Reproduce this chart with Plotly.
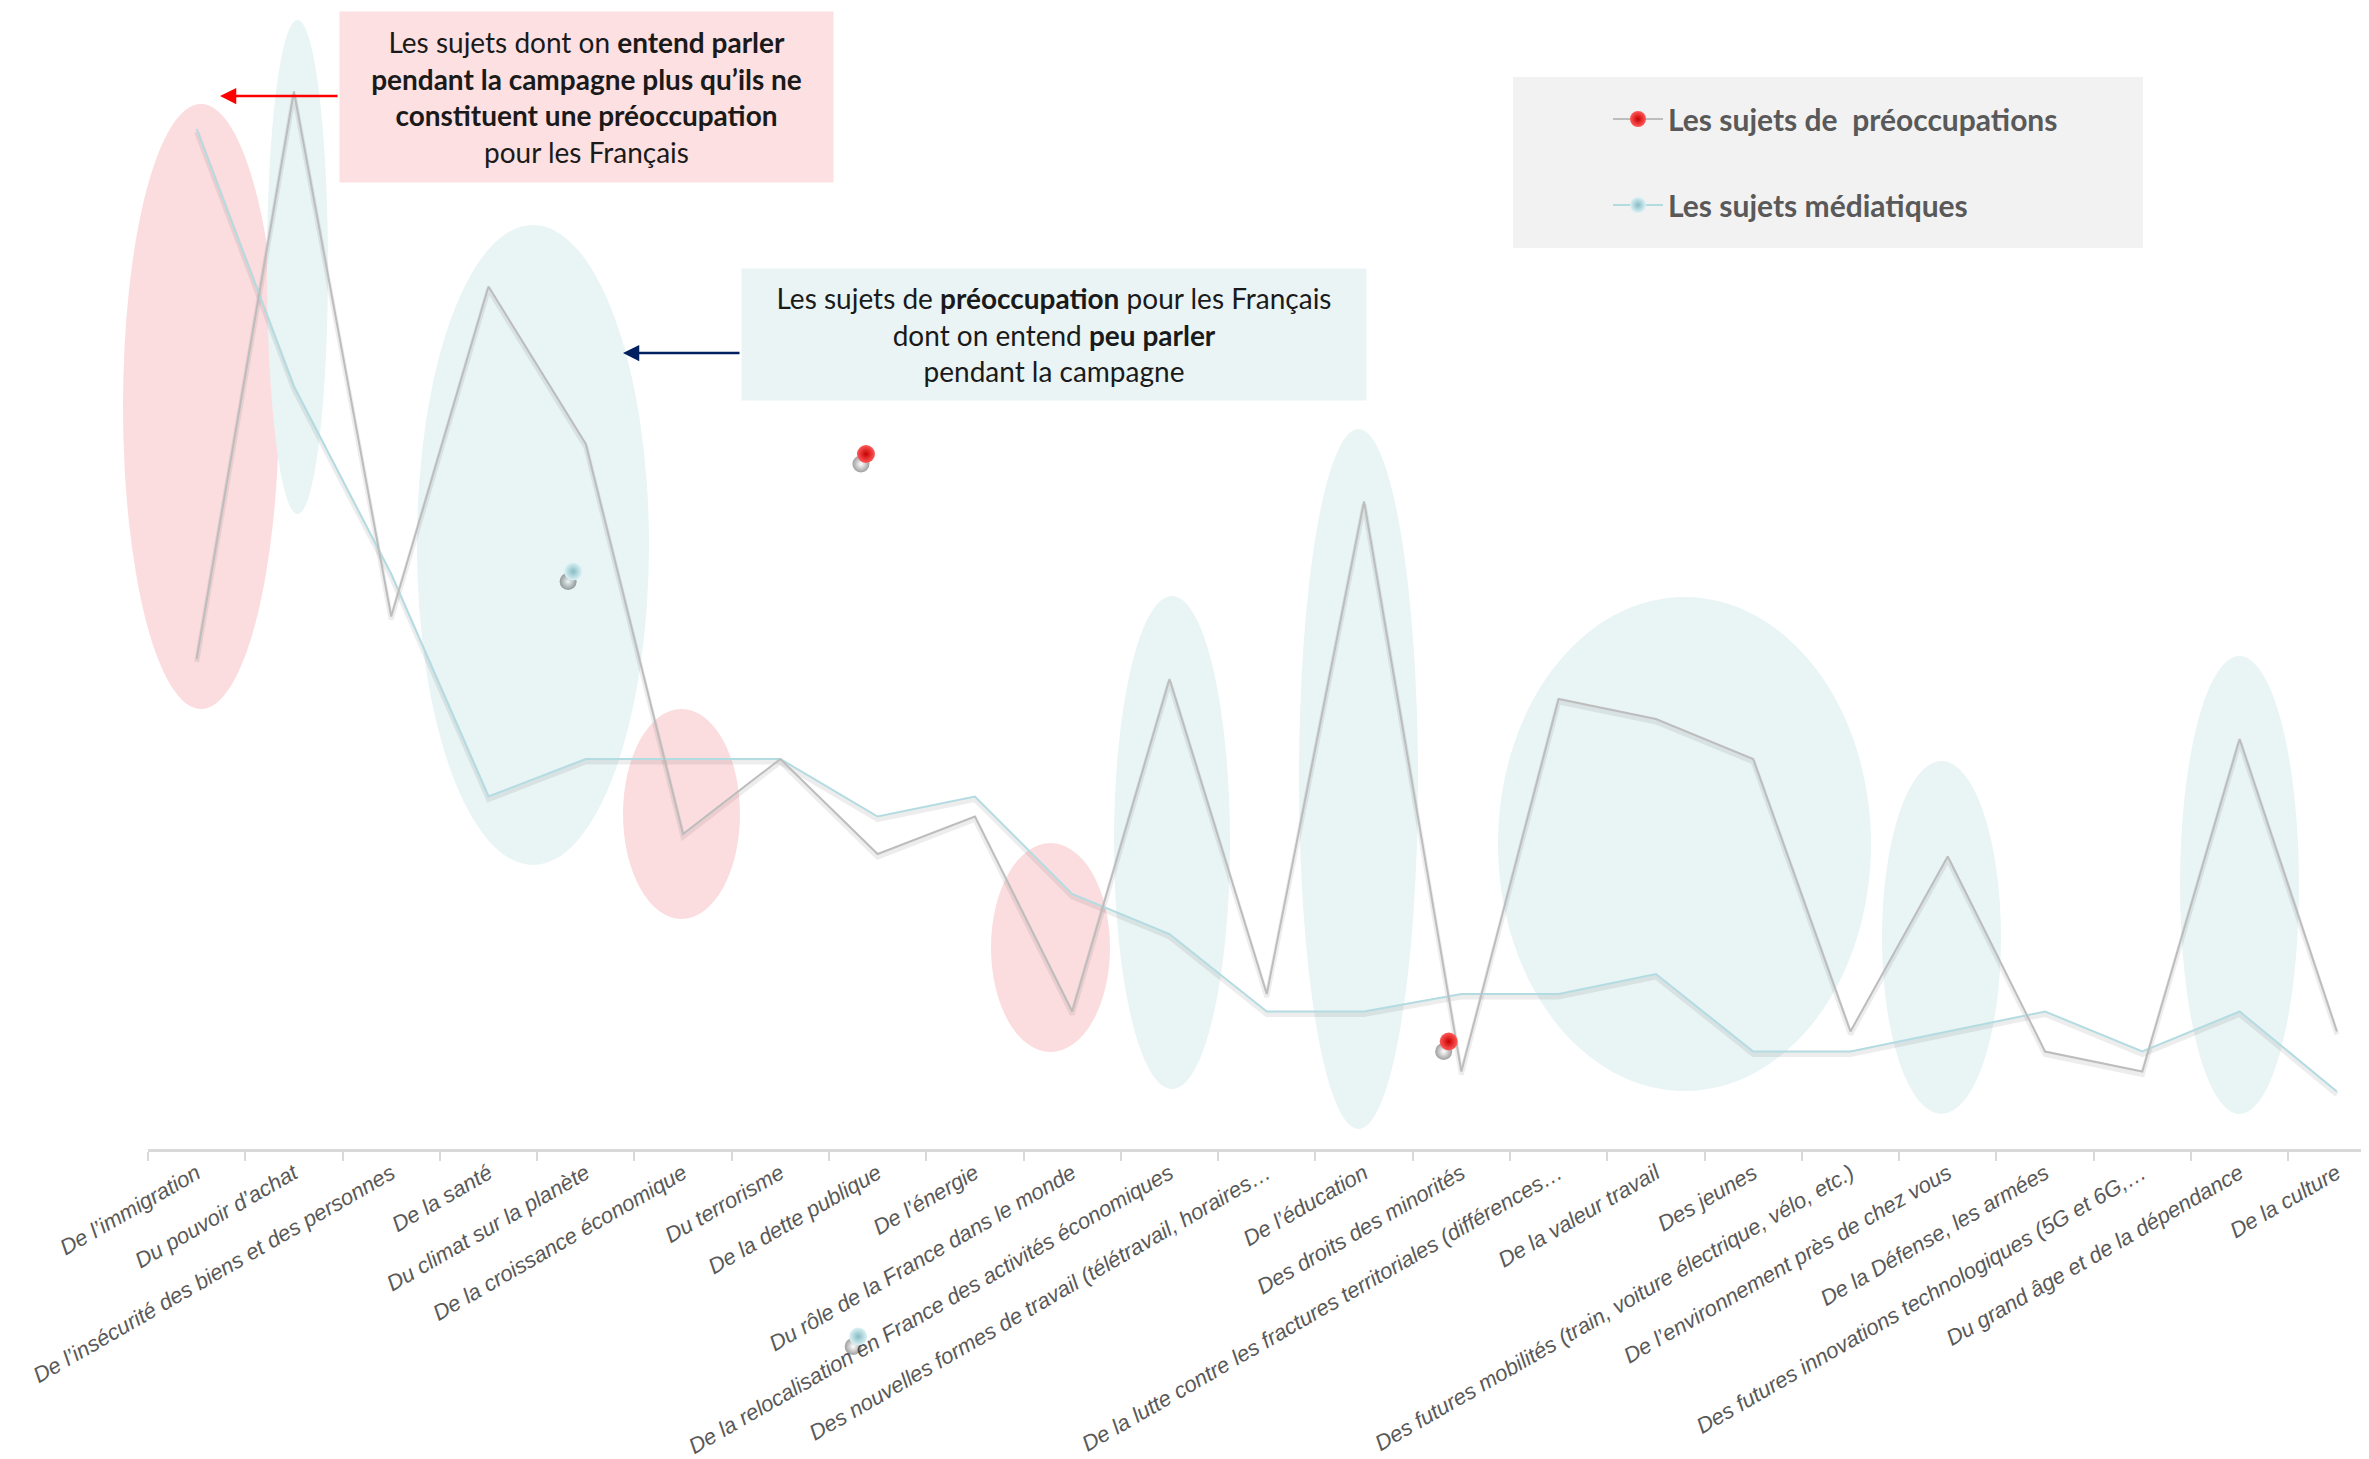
import plotly.graph_objects as go

categories = [
    "De l’immigration", "Du pouvoir d’achat", "De l’insécurité des biens et des personnes",
    "De la santé", "Du climat sur la planète", "De la croissance économique",
    "Du terrorisme", "De la dette publique", "De l’énergie",
    "Du rôle de la France dans le monde",
    "De la relocalisation en France des activités économiques",
    "Des nouvelles formes de travail (télétravail, horaires…",
    "De l’éducation", "Des droits des minorités",
    "De la lutte contre les fractures territoriales (différences…",
    "De la valeur travail", "Des jeunes",
    "Des futures mobilités (train, voiture électrique, vélo, etc.)",
    "De l’environnement près de chez vous", "De la Défense, les armées",
    "Des futures innovations technologiques (5G et 6G,…",
    "Du grand âge et de la dépendance", "De la culture",
]

preoccupations = [19.6, 42.3, 21.3, 34.5, 28.2, 12.6, 15.6, 11.8, 13.3, 5.5, 18.8, 6.2,
                  25.9, 3.1, 18.0, 17.2, 15.6, 4.7, 11.7, 3.9, 3.1, 16.4, 4.7]
mediatiques = [40.8, 30.5, 23.0, 14.1, 15.6, 15.6, 15.6, 13.3, 14.1, 10.2, 8.6, 5.5,
               5.5, 6.2, 6.2, 7.0, 3.9, 3.9, 4.7, 5.5, 3.9, 5.5, 2.3]

# stray 3D markers left on the original chart
stray_red_x = [6.88, 12.87]
stray_red_y = [27.8, 4.3]
stray_teal_x = [3.87, 6.8]
stray_teal_y = [23.1, -7.5]

# page is offset by the 8px body margin, so the figure is 8px smaller
W, H = 2361, 1451
PL = 140            # plot left inside the figure
PW = W - PL         # plot width
PH = 1392           # full plot area height (t=0), reaches below the x axis
AX = 1141           # x axis position from the top of the figure
UNIT = 25           # px per value unit
XR = [-0.5, 22.33]
YR = [0, AX / UNIT]                              # line axes (domain above the x axis)
YR_FULL = [-(PH - AX) / UNIT, AX / UNIT]         # full-height axes for the loose markers
Y_DOM = [(PH - AX) / PH, 1]


def px(x):
    # page px -> paper
    return (x - 8 - PL) / PW


def py(y):
    return (PH + 8 - y) / PH


def shifted(rng, d):
    return [rng[0] + d, rng[1] + d]


GREY = "#BDBDBD"
TEAL = "#B3DCE2"
PINK_FILL = "#FCDDDF"
TEAL_FILL = "#E9F4F5"
RED_BALL = dict(size=18, color="#FF5A5A", gradient=dict(type="radial", color="#C80000"))
TEAL_BALL = dict(size=18, color="#DDF2F5", gradient=dict(type="radial", color="#86BCC5"))
BALL_SHADOW = dict(size=17, color="rgba(40,40,40,0.45)", line=dict(width=0),
                   gradient=dict(type="radial", color="rgba(40,40,40,0)"))

fig = go.Figure()

# legend-only entries
fig.add_trace(go.Scatter(x=[None], y=[None], mode="lines+markers", name="Les sujets de\u00a0 préoccupations",
                         line=dict(color=GREY, width=2), legendgroup="a", marker=RED_BALL))
fig.add_trace(go.Scatter(x=[None], y=[None], mode="lines+markers", name="Les sujets médiatiques",
                         line=dict(color=TEAL, width=2), legendgroup="b", marker=TEAL_BALL))

# soft line shadows: main y axis is shifted a few px, drawn first
for vals in (mediatiques, preoccupations):
    fig.add_trace(go.Scatter(x=categories, y=vals, mode="lines", showlegend=False,
                             hoverinfo="skip", line=dict(color="rgba(0,0,0,0.07)", width=5)))

fig.add_trace(go.Scatter(x=categories, y=mediatiques, yaxis="y2", mode="lines", showlegend=False,
                         line=dict(color=TEAL, width=2)))
fig.add_trace(go.Scatter(x=categories, y=preoccupations, yaxis="y2", mode="lines", showlegend=False,
                         line=dict(color=GREY, width=2)))

# marker shadows (x2/y5, shifted) then markers (x3/y4)
for xs, ys in ((stray_red_x, stray_red_y), (stray_teal_x, stray_teal_y)):
    fig.add_trace(go.Scatter(x=xs, y=ys, xaxis="x2", yaxis="y5", mode="markers", showlegend=False,
                             cliponaxis=False, hoverinfo="skip", marker=BALL_SHADOW))
fig.add_trace(go.Scatter(x=stray_red_x, y=stray_red_y, xaxis="x3", yaxis="y4", mode="markers",
                         showlegend=False, cliponaxis=False, marker=RED_BALL))
fig.add_trace(go.Scatter(x=stray_teal_x, y=stray_teal_y, xaxis="x3", yaxis="y4", mode="markers",
                         showlegend=False, cliponaxis=False, marker=TEAL_BALL))

# highlight ellipses (page px: x0, x1, y0, y1)
ellipses = [
    (123, 279, 104, 709, PINK_FILL),
    (267, 328, 20, 514, TEAL_FILL),
    (417, 649, 225, 865, TEAL_FILL),
    (623, 740, 709, 919, PINK_FILL),
    (991, 1110, 843, 1052, PINK_FILL),
    (1114, 1230, 596, 1089, TEAL_FILL),
    (1299, 1418, 429, 1129, TEAL_FILL),
    (1498, 1871, 597, 1091, TEAL_FILL),
    (1882, 2001, 761, 1114, TEAL_FILL),
    (2180, 2299, 656, 1114, TEAL_FILL),
]
for x0, x1, y0, y1, c in ellipses:
    fig.add_shape(type="circle", xref="paper", yref="paper", x0=px(x0), x1=px(x1), y0=py(y1), y1=py(y0),
                  fillcolor=c, line_width=0, layer="below")

# legend background
fig.add_shape(type="rect", xref="paper", yref="paper", x0=px(1513), x1=px(2143), y0=py(248), y1=py(77),
              fillcolor="#F2F2F2", line_width=0, layer="below")

txt_font = dict(family="Lato, 'Noto Sans', sans-serif", size=28, color="#1a1a1a")
fig.add_annotation(xref="paper", yref="paper", x=px(339), y=py(11), xanchor="left", yanchor="top",
                   width=493, height=170, bgcolor="#FDE0E1", borderpad=0, showarrow=False, align="center",
                   font=txt_font,
                   text="Les sujets dont on <b>entend parler</b><br><b>pendant la campagne plus qu’ils ne</b>"
                        "<br><b>constituent une préoccupation</b><br>pour les Français")
fig.add_annotation(xref="paper", yref="paper", x=px(741), y=py(268), xanchor="left", yanchor="top",
                   width=624, height=131, bgcolor="#EAF4F5", borderpad=0, showarrow=False, align="center",
                   font=txt_font,
                   text="Les sujets de <b>préoccupation</b> pour les Français<br>dont on entend <b>peu parler</b>"
                        "<br>pendant la campagne")

# arrows
fig.add_annotation(xref="paper", yref="paper", x=px(220), y=py(96), ax=119, ay=0, text="",
                   showarrow=True, arrowhead=2, arrowsize=1.3, arrowwidth=2.5, arrowcolor="#FF0000")
fig.add_annotation(xref="paper", yref="paper", x=px(623), y=py(353), ax=118, ay=0, text="",
                   showarrow=True, arrowhead=2, arrowsize=1.3, arrowwidth=2.5, arrowcolor="#002060")

cat_px = PW / (XR[1] - XR[0])

fig.update_layout(
    width=W, height=H,
    margin=dict(l=PL, r=0, t=0, b=H - PH),
    plot_bgcolor="rgba(0,0,0,0)", paper_bgcolor="white",
    showlegend=True,
    legend=dict(x=px(1608), y=py(93), xanchor="left", yanchor="top", bgcolor="rgba(0,0,0,0)",
                font=dict(family="Lato, 'Noto Sans', sans-serif", size=30, color="#595959", weight="bold"),
                tracegroupgap=44, itemwidth=50),
    xaxis=dict(type="category", range=XR, tickson="boundaries", ticks="outside", anchor="y",
               ticklen=9, tickwidth=2, tickcolor="#D9D9D9", showline=True, linecolor="#D9D9D9",
               linewidth=3, showgrid=False, tickangle=-30,
               tickfont=dict(family="'Liberation Sans', Arial, sans-serif", size=22, color="#595959",
                             style="italic")),
    xaxis2=dict(range=shifted(XR, 5 / cat_px), overlaying="x", visible=False),
    xaxis3=dict(range=XR, overlaying="x", visible=False),
    yaxis=dict(range=shifted(YR, 3 / UNIT), domain=Y_DOM, visible=False, showgrid=False, zeroline=False),
    yaxis2=dict(range=YR, overlaying="y", visible=False),
    yaxis4=dict(range=YR_FULL, domain=[0, 1], anchor="x3", visible=False, showgrid=False, zeroline=False),
    yaxis5=dict(range=shifted(YR_FULL, 10 / UNIT), overlaying="y4", visible=False),
)

fig.write_html("out.html")
